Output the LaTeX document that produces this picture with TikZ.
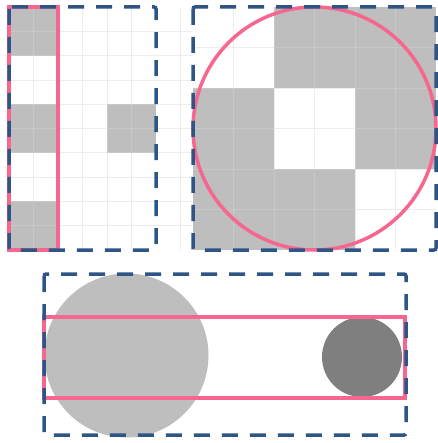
\documentclass[tikz,border=0pt]{standalone}
\usetikzlibrary{positioning}
\definecolor{panelblue}{HTML}{2F5486}
\definecolor{hilite}{HTML}{F6668F}
\definecolor{cellgray}{HTML}{BEBEBE}
\definecolor{dotgray}{HTML}{7F7F7F}
\definecolor{gridline}{HTML}{D6D6D6}
\tikzset{
  frame/.style={draw=panelblue, line width=3.5pt, dash pattern=on 16pt off 12pt, rounded corners=2pt},
  hit/.style={draw=hilite, line width=3.5pt},
  cell/.style={fill=cellgray},
  faint/.style={draw=gridline, draw opacity=0.45, line width=0.7pt}
}

\begin{document}
\begin{tikzpicture}[x=1pt, y=-1pt]
  \useasboundingbox (0,0) rectangle (437,443);

  % left panel: stripes of 2x2 cells
  \coordinate (la) at (9,7);
  \coordinate (lb) at (156,250);
  \fill[cell] (9,7) rectangle (58,55.6);
  \fill[cell] (9,104.2) rectangle (58,152.8);
  \fill[cell] (9,201.4) rectangle (58,250);
  \fill[cell] (107,104.2) rectangle (156,152.8);
  \foreach \i in {1,...,5}
    \draw[faint] (9+24.5*\i,7) -- (9+24.5*\i,250);
  \draw[faint] (180.5,7) -- (180.5,250);
  \foreach \j in {1,...,9}
    \draw[faint] (9,7+24.3*\j) -- (193,7+24.3*\j);
  \draw[hit] (la) rectangle (58,250);

  % right panel: 3x3 blocks with a circle
  \coordinate (ra) at (193,7);
  \coordinate (rb) at (436,250);
  \foreach \c/\r in {1/0,2/0,0/1,2/1,0/2,1/2}
    \fill[cell] (193+81*\c,7+81*\r) rectangle ++(81,81);
  \foreach \i in {1,...,5} {
    \draw[faint] (193+40.5*\i,7) -- (193+40.5*\i,250);
    \draw[faint] (193,7+40.5*\i) -- (436,7+40.5*\i);
  }
  \draw[hit] (314.5,128.5) circle (121.5);

  % bottom panel: two discs in a band
  \coordinate (ba) at (44,274);
  \coordinate (bb) at (406,435);
  \fill[cellgray] (126.5,355.5) circle (82);
  \fill[dotgray] (362,357) circle (40);
  \draw[hit] (44,317) rectangle (405,398);

  % dashed frames on top
  \draw[frame] (la) rectangle (lb);
  \draw[frame] (ra) rectangle (rb);
  \draw[frame] (ba) rectangle (bb);
\end{tikzpicture}
\end{document}
